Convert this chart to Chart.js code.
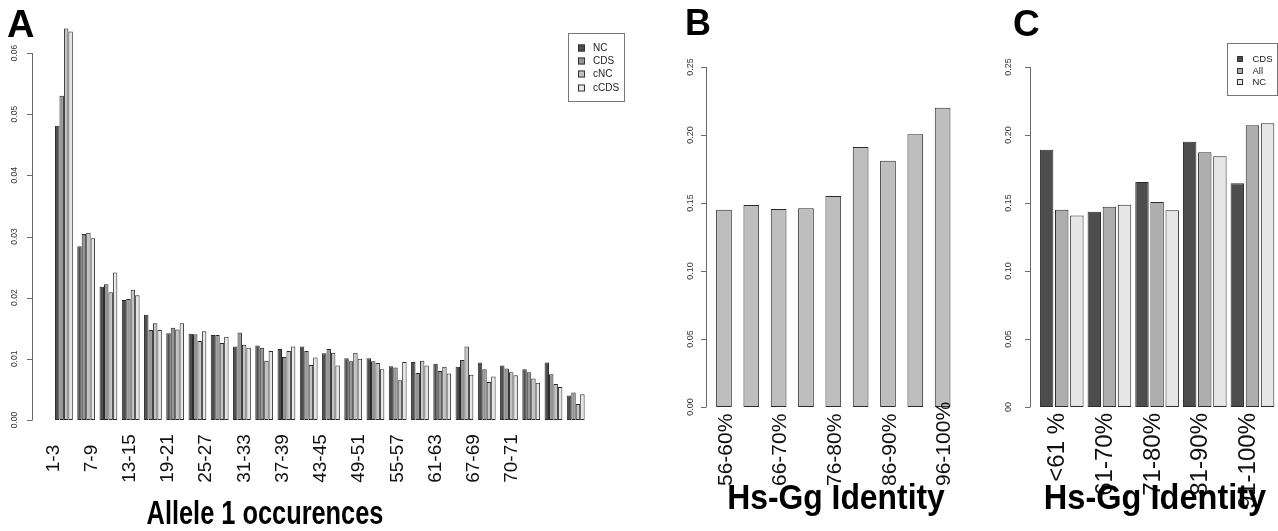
<!DOCTYPE html>
<html>
<head>
<meta charset="utf-8">
<script src="https://cdn.jsdelivr.net/npm/chart.js@4.4.1/dist/chart.umd.min.js"></script>
<style>
  body { margin: 0; background: #fff; }
  #wrap { position: relative; width: 1278px; height: 531px; overflow: hidden; font-family: "Liberation Sans", Arial, sans-serif; }
  #wrap canvas { position: absolute; left: 0; top: 0; }
  .letter { position: absolute; font-weight: bold; line-height: 1; color: #000; }
  .title { position: absolute; font-weight: bold; line-height: 1; white-space: nowrap; color: #000; transform-origin: 50% 50%; }
</style>
</head>
<body>
<div id="wrap">
  <canvas id="chartA" width="1278" height="531"></canvas>
  <canvas id="chartB" width="1278" height="531"></canvas>
  <canvas id="chartC" width="1278" height="531"></canvas>
  <div class="letter" style="left:7px;top:5px;font-size:38px">A</div>
  <div class="letter" style="left:685px;top:5px;font-size:36px">B</div>
  <div class="letter" style="left:1013px;top:5px;font-size:37px">C</div>
  <div class="title" style="left:265px;top:495.6px;font-size:33.5px;transform:translateX(-50%) scaleX(0.757)">Allele 1 occurences</div>
  <div class="title" style="left:836px;top:479px;font-size:35px;transform:translateX(-50%) scaleX(0.91)">Hs-Gg Identity</div>
  <div class="title" style="left:1155px;top:479px;font-size:35px;transform:translateX(-50%) scaleX(0.93)">Hs-Gg Identity</div>
</div>
<script>
// ---- panel A: allele 1 occurences ----
const groupsA = ["1-3", "4-6", "7-9", "10-12", "13-15", "16-18", "19-21", "22-24", "25-27", "28-30",
                 "31-33", "34-36", "37-39", "40-42", "43-45", "46-48", "49-51", "52-54", "55-57", "58-60",
                 "61-63", "64-66", "67-69", "70-71", "72-74"];
const tickLabelsA = ["1-3", "7-9", "13-15", "19-21", "25-27", "31-33", "37-39", "43-45", "49-51", "55-57", "61-63", "67-69", "70-71"];
const ncA   = [0.0481, 0.0284, 0.0218, 0.0196, 0.0172, 0.0142, 0.0141, 0.0139, 0.0120, 0.0122, 0.0116, 0.0120, 0.0109,
               0.0101, 0.0101, 0.0088, 0.0095, 0.0092, 0.0087, 0.0094, 0.0089, 0.0083, 0.0094, 0.0040, 0];
const cdsA  = [0.0530, 0.0304, 0.0222, 0.0198, 0.0147, 0.0151, 0.0140, 0.0139, 0.0143, 0.0118, 0.0103, 0.0113, 0.0116,
               0.0096, 0.0096, 0.0086, 0.0077, 0.0080, 0.0098, 0.0083, 0.0084, 0.0078, 0.0075, 0.0045, 0];
const cncA  = [0.0640, 0.0306, 0.0209, 0.0213, 0.0158, 0.0148, 0.0129, 0.0126, 0.0123, 0.0097, 0.0113, 0.0090, 0.0110,
               0.0110, 0.0093, 0.0065, 0.0097, 0.0087, 0.0120, 0.0062, 0.0078, 0.0068, 0.0059, 0.0026, 0];
const ccdsA = [0.0635, 0.0297, 0.0241, 0.0204, 0.0147, 0.0158, 0.0145, 0.0136, 0.0118, 0.0113, 0.0120, 0.0102, 0.0089,
               0.0100, 0.0083, 0.0095, 0.0089, 0.0076, 0.0074, 0.0071, 0.0073, 0.0061, 0.0054, 0.0042, 0];
const yTicksA  = [0, 0.01, 0.02, 0.03, 0.04, 0.05, 0.06];
const yLabelsA = ["0.00", "0.01", "0.02", "0.03", "0.04", "0.05", "0.06"];

// ---- panel B: identity classes ----
const catsB   = ["56-60%", "61-65%", "66-70%", "71-75%", "76-80%", "81-85%", "86-90%", "91-95%", "96-100%"];
const shownB  = ["56-60%", "66-70%", "76-80%", "86-90%", "96-100%"];
const valuesB = [0.1451, 0.1485, 0.1456, 0.1461, 0.1551, 0.1912, 0.1811, 0.2005, 0.2201];
const yTicksB  = [0, 0.05, 0.10, 0.15, 0.20, 0.25];
const yLabelsB = ["0.00", "0.05", "0.10", "0.15", "0.20", "0.25"];

// ---- panel C: CDS / All / NC ----
const catsC = ["<61 %", "61-70%", "71-80%", "81-90%", "91-100%"];
const cdsC  = [0.1892, 0.1436, 0.1654, 0.1951, 0.1645];
const allC  = [0.1451, 0.1473, 0.1507, 0.1873, 0.2071];
const ncC   = [0.1409, 0.1488, 0.1446, 0.1843, 0.2086];
const yLabelsC = ["00", "0.05", "0.10", "0.15", "0.20", "0.25"];

const FONT = '"Liberation Sans", Arial, sans-serif';

// R-style axes: short axis line, rotated tick labels
const rAxes = {
  id: 'rAxes',
  afterDraw(chart, args, o) {
    const ctx = chart.ctx, ys = chart.scales.y, xs = chart.scales[o.xScale];
    ctx.save();
    const yA = ys.getPixelForValue(o.yTicks[0]);
    const yB = ys.getPixelForValue(o.yTicks[o.yTicks.length - 1]);
    ctx.strokeStyle = '#6a6a6a';
    ctx.lineWidth = 1;
    ctx.beginPath();
    ctx.moveTo(o.axisX + 0.5, yA);
    ctx.lineTo(o.axisX + 0.5, yB);
    o.yTicks.forEach(v => {
      const p = Math.round(ys.getPixelForValue(v)) + 0.5;
      ctx.moveTo(o.axisX + 0.5, p);
      ctx.lineTo(o.axisX - 5, p);
    });
    ctx.stroke();

    ctx.fillStyle = '#333';
    ctx.font = o.yFont + 'px ' + FONT;
    ctx.textAlign = 'center';
    ctx.textBaseline = 'middle';
    o.yTicks.forEach((v, i) => {
      ctx.save();
      ctx.translate(o.labelX, ys.getPixelForValue(v));
      ctx.rotate(-Math.PI / 2);
      ctx.fillText(o.yLabels[i], 0, 0);
      ctx.restore();
    });

    ctx.fillStyle = '#111';
    ctx.font = o.xFont + 'px ' + FONT;
    ctx.textAlign = o.xAlign;
    o.xLabels.forEach((t, i) => {
      ctx.save();
      ctx.translate(xs.getPixelForValue(o.xAt[i]) + (o.xShift || 0), o.xY);
      ctx.rotate(-Math.PI / 2);
      ctx.fillText(t, 0, 0);
      ctx.restore();
    });
    ctx.restore();
  }
};

// boxed legend like R's legend()
const rLegend = {
  id: 'rLegend',
  afterDraw(chart, args, o) {
    const ctx = chart.ctx;
    ctx.save();
    ctx.strokeStyle = '#777';
    ctx.lineWidth = 1;
    ctx.strokeRect(o.x + 0.5, o.y + 0.5, o.w, o.h);
    ctx.font = o.font + 'px ' + FONT;
    ctx.textAlign = 'left';
    ctx.textBaseline = 'middle';
    chart.data.datasets.forEach((ds, i) => {
      const cy = Math.round(o.firstY + i * o.step);
      ctx.fillStyle = ds.backgroundColor;
      ctx.fillRect(o.sqX, cy - o.sq / 2, o.sq, o.sq);
      ctx.strokeStyle = '#333';
      ctx.strokeRect(o.sqX + 0.5, cy - o.sq / 2 + 0.5, o.sq - 1, o.sq - 1);
      ctx.fillStyle = '#222';
      ctx.fillText(ds.label, o.textX, cy);
    });
    ctx.restore();
  }
};

const barStyle = { borderColor: '#2b2b2b', borderWidth: 1, borderSkipped: false };

const baseOptions = (padding) => ({
  responsive: false,
  animation: false,
  events: [],
  layout: { padding: padding },
  plugins: { legend: { display: false }, tooltip: { enabled: false } }
});

// ---- chart A ----
const optsA = baseOptions({ left: 52.8, right: 668.9, top: 16.3, bottom: 111 });
optsA.scales = {
  x: { type: 'category', display: false },
  // separate axis for the label row, which is spaced independently of the bar groups
  xl: { type: 'linear', display: false, position: 'bottom', offset: false, min: -0.013, max: 14.54 },
  y: { type: 'linear', display: false, min: 0, max: 0.066 }
};
optsA.plugins.rAxes = {
  yTicks: yTicksA, yLabels: yLabelsA, axisX: 32, labelX: 15, yFont: 8.5,
  xScale: 'xl', xLabels: tickLabelsA, xAt: tickLabelsA.map((t, i) => i),
  xAlign: 'center', xY: 458.5, xFont: 19
};
optsA.plugins.rLegend = { x: 568, y: 33, w: 56, h: 68, firstY: 47.7, step: 13.3, sq: 7, sqX: 578, textX: 593, font: 10 };

new Chart(document.getElementById('chartA'), {
  type: 'bar',
  data: {
    labels: groupsA,
    datasets: [
      { label: 'NC',   data: ncA,   backgroundColor: '#4d4d4d' },
      { label: 'CDS',  data: cdsA,  backgroundColor: '#969696' },
      { label: 'cNC',  data: cncA,  backgroundColor: '#c3c3c3' },
      { label: 'cCDS', data: ccdsA, backgroundColor: '#e6e6e6' }
    ].map(d => Object.assign(d, barStyle, { barPercentage: 1, categoryPercentage: 0.8 }))
  },
  options: optsA,
  plugins: [rAxes, rLegend]
});

// ---- chart B ----
const optsB = baseOptions({ left: 710.3, right: 321.7, top: 67, bottom: 124 });
optsB.scales = {
  x: { type: 'category', display: false },
  y: { type: 'linear', display: false, min: 0, max: 0.25 }
};
optsB.plugins.rAxes = {
  yTicks: yTicksB, yLabels: yLabelsB, axisX: 706, labelX: 691, yFont: 9,
  xScale: 'x', xLabels: shownB, xAt: shownB.map(l => catsB.indexOf(l)),
  xAlign: 'left', xY: 486, xFont: 21, xShift: 2
};

new Chart(document.getElementById('chartB'), {
  type: 'bar',
  data: {
    labels: catsB,
    datasets: [Object.assign({ label: 'Identity', data: valuesB, backgroundColor: '#bebebe',
                               barPercentage: 0.575, categoryPercentage: 1 }, barStyle)]
  },
  options: optsB,
  plugins: [rAxes]
});

// ---- chart C ----
const optsC = baseOptions({ left: 1037.9, right: 1.7, top: 67, bottom: 124 });
optsC.scales = {
  x: { type: 'category', display: false },
  y: { type: 'linear', display: false, min: 0, max: 0.25 }
};
optsC.plugins.rAxes = {
  yTicks: yTicksB, yLabels: yLabelsC, axisX: 1030, labelX: 1009, yFont: 9,
  xScale: 'x', xLabels: catsC, xAt: catsC.map((c, i) => i),
  xAlign: 'right', xY: 413, xFont: 24, xShift: -4
};
optsC.plugins.rLegend = { x: 1227, y: 43, w: 50, h: 52, firstY: 59.3, step: 11.5, sq: 6, sqX: 1237, textX: 1252.5, font: 9.5 };

new Chart(document.getElementById('chartC'), {
  type: 'bar',
  data: {
    labels: catsC,
    datasets: [
      { label: 'CDS', data: cdsC, backgroundColor: '#4d4d4d' },
      { label: 'All', data: allC, backgroundColor: '#aeaeae' },
      { label: 'NC',  data: ncC,  backgroundColor: '#e6e6e6' }
    ].map(d => Object.assign(d, barStyle, { barPercentage: 0.889, categoryPercentage: 0.951 }))
  },
  options: optsC,
  plugins: [rAxes, rLegend]
});
</script>
</body>
</html>
